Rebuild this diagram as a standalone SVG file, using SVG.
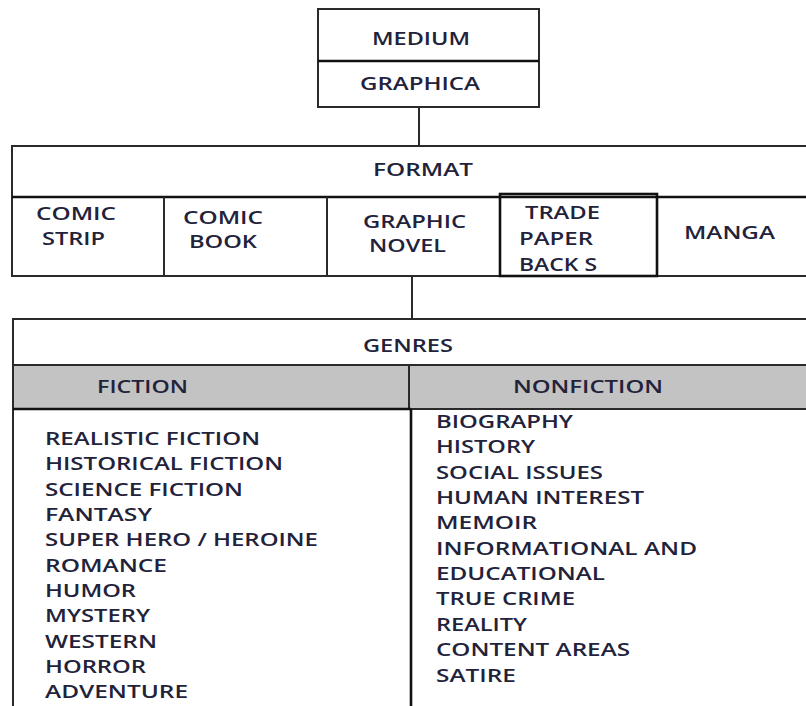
<svg xmlns="http://www.w3.org/2000/svg" width="806" height="706" viewBox="0 0 806 706">
<style>
  .ln { stroke: #2a2a2a; stroke-width: 2; fill: none; }
  .thick { stroke: #111; stroke-width: 2.6; fill: none; }
  .box { fill: #ffffff; stroke: #2a2a2a; stroke-width: 2; }
  .gray { fill: #c3c3c3; stroke: #2a2a2a; stroke-width: 2; }
  text { font-family: "Open Sans", "Liberation Sans", sans-serif; font-weight: 600; font-size: 18px; fill: #22223a; }
</style>
<rect width="806" height="706" fill="#ffffff"/>

<g id="connectors">
  <line class="ln" x1="419" y1="107" x2="419" y2="146"/>
  <line class="ln" x1="412" y1="276" x2="412" y2="319"/>
</g>

<g id="medium">
  <rect class="box" x="318" y="9" width="221" height="98"/>
  <line class="thick" x1="318" y1="61" x2="539" y2="61"/>
  <text x="372" y="45" textLength="98" lengthAdjust="spacingAndGlyphs">MEDIUM</text>
  <text x="360" y="90" textLength="120" lengthAdjust="spacingAndGlyphs">GRAPHICA</text>
</g>

<g id="format">
  <rect class="box" x="12" y="146" width="800" height="130"/>
  <line class="thick" x1="12" y1="197" x2="810" y2="197"/>
  <text x="373" y="176" textLength="100" lengthAdjust="spacingAndGlyphs">FORMAT</text>
</g>

<g id="comic-strip">
  <line class="ln" x1="164" y1="197" x2="164" y2="276"/>
  <text x="36" y="220" textLength="80" lengthAdjust="spacingAndGlyphs">COMIC</text>
  <text x="42" y="245" textLength="63" lengthAdjust="spacingAndGlyphs">STRIP</text>
</g>

<g id="comic-book">
  <line class="ln" x1="327" y1="197" x2="327" y2="276"/>
  <text x="183" y="224" textLength="80" lengthAdjust="spacingAndGlyphs">COMIC</text>
  <text x="189" y="248" textLength="68" lengthAdjust="spacingAndGlyphs">BOOK</text>
</g>

<g id="graphic-novel">
  <text x="363" y="228" textLength="103" lengthAdjust="spacingAndGlyphs">GRAPHIC</text>
  <text x="369" y="252" textLength="77" lengthAdjust="spacingAndGlyphs">NOVEL</text>
</g>

<g id="trade-paperbacks">
  <rect class="thick" x="500" y="194" width="157" height="82"/>
  <text x="525" y="219" textLength="75" lengthAdjust="spacingAndGlyphs">TRADE</text>
  <text x="519" y="245" textLength="74" lengthAdjust="spacingAndGlyphs">PAPER</text>
  <text x="519" y="271" textLength="78" lengthAdjust="spacingAndGlyphs">BACK S</text>
</g>

<g id="manga">
  <text x="684" y="239" textLength="91" lengthAdjust="spacingAndGlyphs">MANGA</text>
</g>

<g id="genres">
  <rect class="box" x="13" y="319" width="800" height="400"/>
  <rect class="gray" x="13" y="365" width="800" height="44"/>
  <line class="ln" x1="409" y1="365" x2="409" y2="409"/>
  <text x="363" y="352" textLength="90" lengthAdjust="spacingAndGlyphs">GENRES</text>
</g>

<g id="fiction">
  <line class="thick" x1="13" y1="409" x2="411" y2="409"/>
  <line class="thick" x1="411" y1="409" x2="411" y2="710"/>
  <text x="97" y="393" textLength="91" lengthAdjust="spacingAndGlyphs">FICTION</text>
  <text x="45" y="445" textLength="215" lengthAdjust="spacingAndGlyphs">REALISTIC FICTION</text>
  <text x="45" y="470" textLength="238" lengthAdjust="spacingAndGlyphs">HISTORICAL FICTION</text>
  <text x="45" y="496" textLength="198" lengthAdjust="spacingAndGlyphs">SCIENCE FICTION</text>
  <text x="45" y="521" textLength="107" lengthAdjust="spacingAndGlyphs">FANTASY</text>
  <text x="45" y="546" textLength="273" lengthAdjust="spacingAndGlyphs">SUPER HERO / HEROINE</text>
  <text x="45" y="572" textLength="122" lengthAdjust="spacingAndGlyphs">ROMANCE</text>
  <text x="45" y="597" textLength="91" lengthAdjust="spacingAndGlyphs">HUMOR</text>
  <text x="45" y="622" textLength="105" lengthAdjust="spacingAndGlyphs">MYSTERY</text>
  <text x="45" y="648" textLength="112" lengthAdjust="spacingAndGlyphs">WESTERN</text>
  <text x="45" y="673" textLength="101" lengthAdjust="spacingAndGlyphs">HORROR</text>
  <text x="45" y="698" textLength="143" lengthAdjust="spacingAndGlyphs">ADVENTURE</text>
</g>

<g id="nonfiction">
  <text x="513" y="393" textLength="150" lengthAdjust="spacingAndGlyphs">NONFICTION</text>
  <text x="436" y="428" textLength="137" lengthAdjust="spacingAndGlyphs">BIOGRAPHY</text>
  <text x="436" y="453" textLength="99" lengthAdjust="spacingAndGlyphs">HISTORY</text>
  <text x="436" y="479" textLength="167" lengthAdjust="spacingAndGlyphs">SOCIAL ISSUES</text>
  <text x="436" y="504" textLength="208" lengthAdjust="spacingAndGlyphs">HUMAN INTEREST</text>
  <text x="436" y="529" textLength="101" lengthAdjust="spacingAndGlyphs">MEMOIR</text>
  <text x="436" y="555" textLength="261" lengthAdjust="spacingAndGlyphs">INFORMATIONAL AND</text>
  <text x="436" y="580" textLength="169" lengthAdjust="spacingAndGlyphs">EDUCATIONAL</text>
  <text x="436" y="605" textLength="139" lengthAdjust="spacingAndGlyphs">TRUE CRIME</text>
  <text x="436" y="631" textLength="91" lengthAdjust="spacingAndGlyphs">REALITY</text>
  <text x="436" y="656" textLength="194" lengthAdjust="spacingAndGlyphs">CONTENT AREAS</text>
  <text x="436" y="682" textLength="80" lengthAdjust="spacingAndGlyphs">SATIRE</text>
</g>
</svg>
